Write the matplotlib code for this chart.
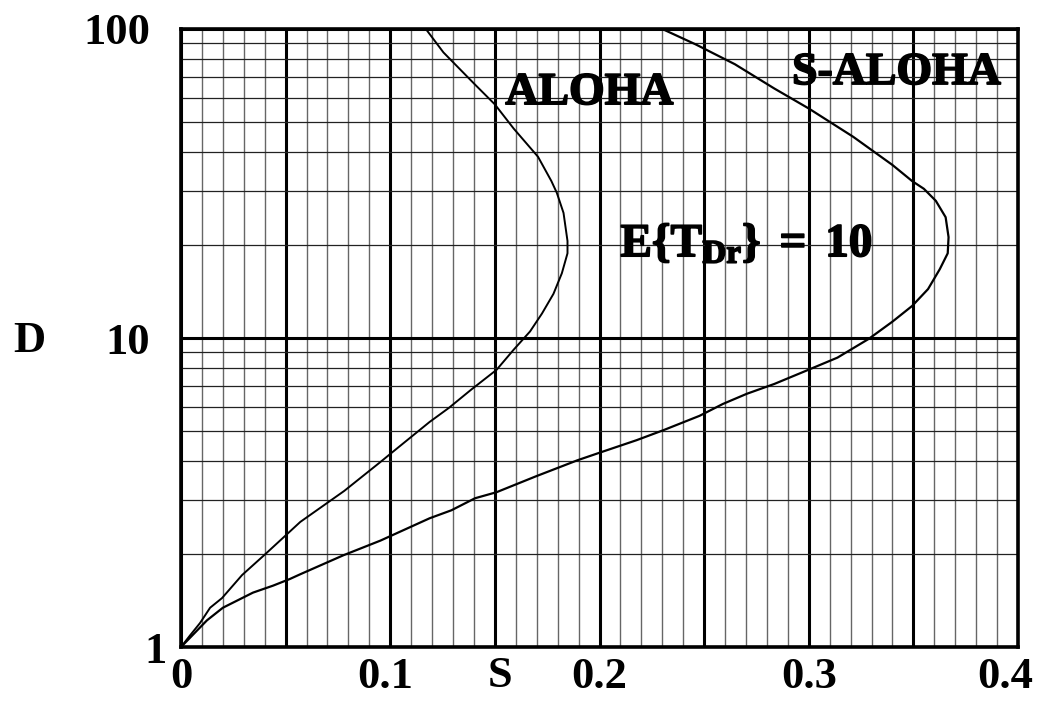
import matplotlib.pyplot as plt
from matplotlib.ticker import MultipleLocator, FixedLocator, NullFormatter
from matplotlib.transforms import ScaledTranslation
import matplotlib.patheffects as pe

# throughput S vs delay D
aloha_s = [0, 0.0043, 0.0091, 0.0139, 0.0196, 0.0292, 0.040, 0.0507, 0.057, 0.078,
           0.0953, 0.101, 0.1188, 0.128, 0.1386, 0.1508, 0.159, 0.1668, 0.1725, 0.178,
           0.182, 0.1847, 0.1847, 0.1828, 0.1796, 0.177, 0.1706, 0.159, 0.150, 0.1405,
           0.1254, 0.117]
aloha_d = [1, 1.09, 1.196, 1.34, 1.44, 1.71, 1.99, 2.32, 2.54, 3.2,
           3.97, 4.27, 5.35, 5.94, 6.8, 7.89, 9.17, 10.5, 12.0, 13.9,
           16.2, 18.8, 20.6, 25.4, 29.5, 32.2, 38.6, 47.6, 57, 66.1,
           84, 100]

saloha_s = [0, 0.0124, 0.020, 0.0344, 0.044, 0.052, 0.057, 0.0775, 0.0953, 0.1188,
            0.1292, 0.1405, 0.1508, 0.1697, 0.1894, 0.2007, 0.2177, 0.2308, 0.2478,
            0.259, 0.2704, 0.2835, 0.300, 0.3137, 0.3287, 0.340, 0.3494, 0.357,
            0.3626, 0.3664, 0.3668, 0.3654, 0.3607, 0.355, 0.3494, 0.340, 0.3212,
            0.300, 0.2835, 0.2647, 0.2459, 0.23]
saloha_d = [1, 1.22, 1.34, 1.50, 1.58, 1.66, 1.72, 1.98, 2.21, 2.61,
            2.77, 3.03, 3.17, 3.57, 4.02, 4.27, 4.67, 5.04, 5.6,
            6.12, 6.6, 7.1, 7.9, 8.64, 9.94, 11.3, 12.7, 14.4,
            16.7, 18.8, 21.2, 24.6, 27.8, 30.4, 32.2, 36.3, 44.8,
            55.3, 64.2, 76.9, 89.2, 100]

x_ticks = [0, 0.05, 0.1, 0.15, 0.2, 0.25, 0.3, 0.35, 0.4]
x_labels = ['0', '', '0.1', '', '0.2', '', '0.3', '', '0.4']
y_ticks = [1, 10, 100]
y_labels = ['1', '10', '100']

plt.rcParams['font.family'] = 'Liberation Serif'
plt.rcParams['font.weight'] = 'bold'
plt.rcParams['mathtext.fontset'] = 'custom'
plt.rcParams['mathtext.rm'] = 'Liberation Serif:bold'
plt.rcParams['mathtext.bf'] = 'Liberation Serif:bold'
plt.rcParams['mathtext.it'] = 'Liberation Serif:bold'

fig = plt.figure(figsize=(10.42, 7.02), dpi=100)
ax = fig.add_axes([0.1737, 0.0783, 0.8033, 0.8804])

ax.set_yscale('log')
ax.set_xlim(0, 0.4)
ax.set_ylim(1, 100)

# grid
ax.xaxis.set_major_locator(FixedLocator(x_ticks))
ax.xaxis.set_minor_locator(MultipleLocator(0.01))
ax.set_yticks(y_ticks)
ax.yaxis.set_minor_locator(FixedLocator([k * 10 ** e for e in (0, 1) for k in range(2, 10)]))
ax.yaxis.set_minor_formatter(NullFormatter())
ax.grid(which='major', axis='x', color='black', lw=2.2)
ax.grid(which='minor', axis='x', color='#666666', lw=1.0)
ax.grid(which='major', axis='y', color='black', lw=2.2)
ax.grid(which='minor', axis='y', color='#222222', lw=0.9)
ax.set_axisbelow(True)

ax.set_xticklabels(x_labels, fontsize=32, fontweight='bold')
ax.set_yticklabels(y_labels, fontsize=32, fontweight='bold')
ax.tick_params(which='both', length=0)
ax.tick_params(axis='x', pad=7)
ax.tick_params(axis='y', pad=22)
for sp in ax.spines.values():
    sp.set_linewidth(2.6)

# nudge a few labels like in the original
xl = ax.get_xticklabels()
xl[-1].set_transform(xl[-1].get_transform() + ScaledTranslation(-0.13, 0, fig.dpi_scale_trans))
xl[2].set_transform(xl[2].get_transform() + ScaledTranslation(-0.05, 0, fig.dpi_scale_trans))
yl = ax.get_yticklabels()
yl[0].set_transform(yl[0].get_transform() + ScaledTranslation(0.16, 0, fig.dpi_scale_trans))

ax.plot(aloha_s, aloha_d, color='black', lw=1.4)
ax.plot(saloha_s, saloha_d, color='black', lw=1.6)

stroke = [pe.withStroke(linewidth=1.2, foreground='black')]
ax.text(0.155, 62, 'ALOHA', fontsize=33, fontweight='bold', ha='left', va='center',
        path_effects=stroke)
ax.text(0.292, 72, 'S-ALOHA', fontsize=33, fontweight='bold', ha='left', va='center',
        path_effects=stroke)
ax.text(0.210, 20, r'$\mathbf{E\{T_{Dr}\}\;=\;10}$', fontsize=34, ha='left', va='center',
        path_effects=stroke)

fig.text(0.028, 0.514, 'D', fontsize=32, fontweight='bold', ha='center', va='center')
fig.text(0.48, 0.037, 'S', fontsize=32, fontweight='bold', ha='center', va='center')

fig.savefig('out.png', dpi=100)
